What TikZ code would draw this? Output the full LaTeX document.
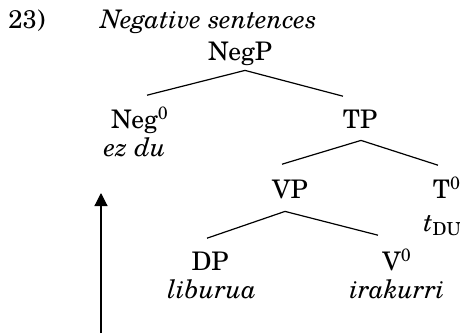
\documentclass[tikz,border=0pt]{standalone}
\usepackage{fontspec}
\setmainfont{TeX Gyre Schola}
\usetikzlibrary{calc,arrows.meta}
\tikzset{
  lab/.style={anchor=base, inner sep=0pt, font=\fontsize{12.8}{15}\selectfont, text height=9.2pt, text depth=0pt},
  word/.style={anchor=base, inner sep=0pt, font=\fontsize{12.8}{15}\selectfont\itshape},
  branch/.style={line width=0.6pt},
}
\begin{document}
\begin{tikzpicture}[x=0.5pt,y=-0.5pt]
\useasboundingbox (0,0) rectangle (460,333);
\node[anchor=base west, inner sep=0pt, font=\fontsize{12.8}{15}\selectfont] (num) at (8,28) {23)};
\node[anchor=base west, inner sep=0pt, font=\fontsize{12.8}{15}\selectfont\itshape] (title) at (100,28) {Negative sentences};
\node[lab] (negp) at (240,60) {NegP};
\node[lab] (neg) at (140,128) {Neg\textsuperscript{0}};
\node[word] (ezdu) at (135,156) {ez du};
\node[lab] (tp) at (360,128) {TP};
\node[lab] (vp) at (290,198) {VP};
\node[lab] (t0) at (447,198) {T\textsuperscript{0}};
\node[anchor=base, inner sep=0pt, font=\fontsize{12.8}{15}\selectfont] (tdu) at (443,231) {\textit{t}\textsubscript{DU}};
\node[lab] (dp) at (210,270) {DP};
\node[lab] (v0) at (397,270) {V\textsuperscript{0}};
\node[word] (liburua) at (212,298) {liburua};
\node[word] (irakurri) at (397,298) {irakurri};
% branches
\draw[branch] ($(negp.south)+(5,10)$) -- ($(neg.north)+(7,-14)$);
\draw[branch] ($(negp.south)+(5,10)$) -- ($(tp.north)+(-17,-13)$);
\draw[branch] ($(tp.south)+(1,12)$) -- ($(vp.north)+(-8,-15)$);
\draw[branch] ($(tp.south)+(1,12)$) -- ($(t0.north)+(-9,-14)$);
\draw[branch] ($(vp.south)+(-5,13)$) -- ($(dp.north)+(-3,-13)$);
\draw[branch] ($(vp.south)+(-5,13)$) -- ($(v0.north)+(-19,-16)$);
% arrow
\coordinate (abot) at (101,333);
\coordinate (atop) at (101,193);
\draw[line width=0.6pt, -{Triangle[width=6.5pt,length=6.5pt]}] (abot) -- (atop);
\end{tikzpicture}
\end{document}
